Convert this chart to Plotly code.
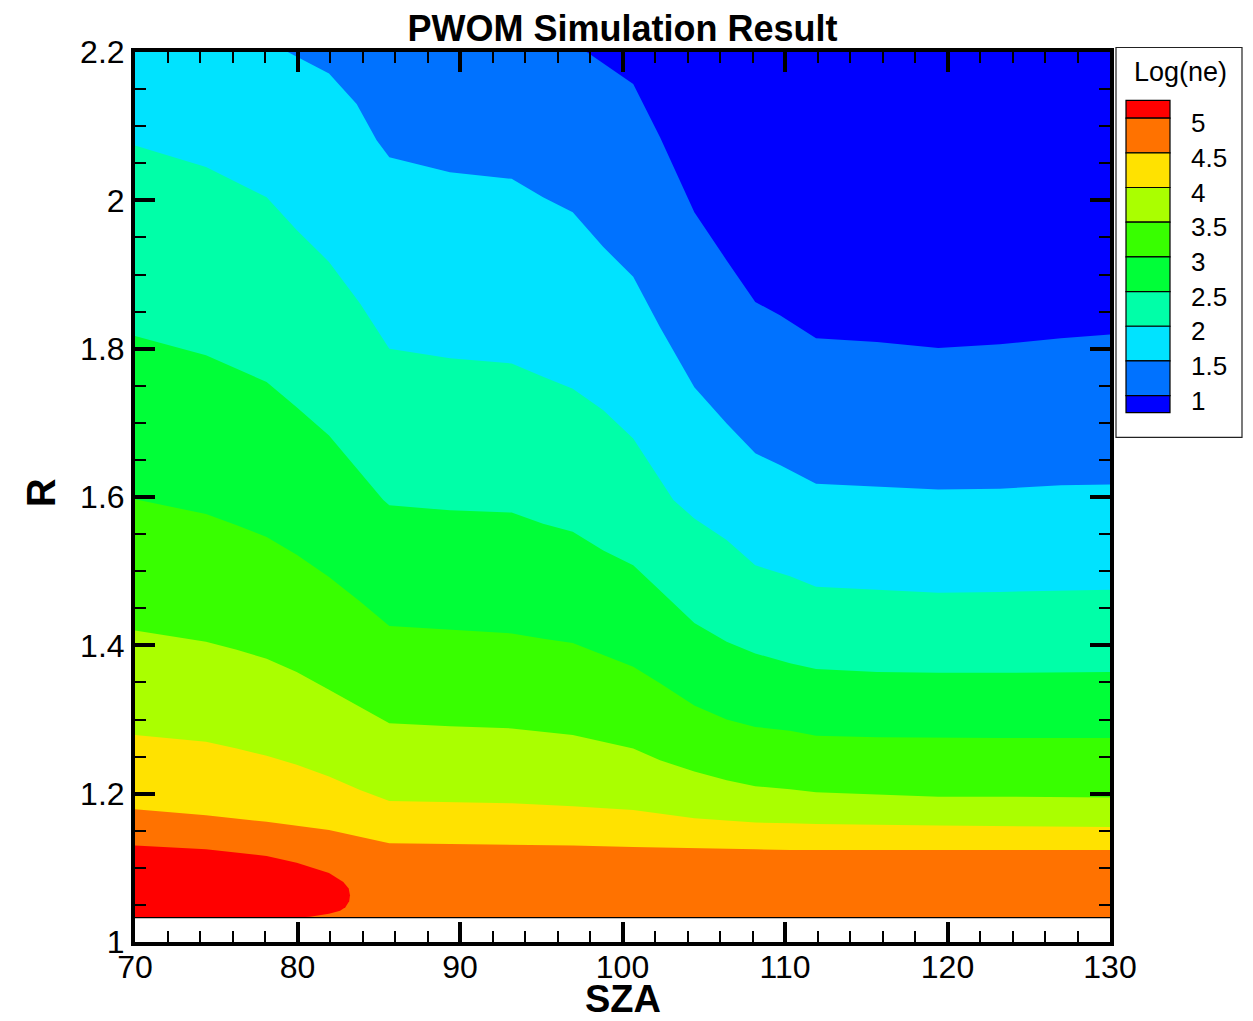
import plotly.graph_objects as go

# ---------------------------------------------------------------
# PWOM simulation: log10 electron density over SZA and R
# ---------------------------------------------------------------
SZA_MIN, SZA_MAX = 70.0, 130.0
R_MIN, R_MAX = 1.033, 2.2

LEVELS = [1, 1.5, 2, 2.5, 3, 3.5, 4, 4.5, 5]
LEVEL_LABELS = ["1", "1.5", "2", "2.5", "3", "3.5", "4", "4.5", "5"]
# fill colour of each band, from below level 1 up to above level 5
BAND_COLORS = ["#0000FF", "#0072FF", "#00E3FF", "#00FFA8", "#00FF38",
               "#38FF00", "#AAFF00", "#FFE200", "#FF7200", "#FF0000"]

# iso-contours of log(ne): vertices (SZA, R) of each level line
sza_10 = [97.8, 100.66, 102.31, 103.34, 104.42, 106.41, 108.17, 109.69,
          111.91, 115.66, 119.43, 123.23, 126.98, 130.0]
r_10 = [2.2, 2.157, 2.085, 2.036, 1.984, 1.919, 1.863, 1.845,
        1.814, 1.809, 1.801, 1.806, 1.814, 1.819]

sza_15 = [79.4, 81.94, 83.64, 84.87, 85.65, 89.38, 93.18, 95.11, 96.94,
          98.82, 100.66, 102.31, 104.42, 106.41, 108.17, 109.69, 111.91,
          115.66, 119.43, 123.23, 126.98, 130.0]
r_15 = [2.2, 2.171, 2.130, 2.081, 2.058, 2.038, 2.029, 2.004, 1.984,
        1.937, 1.897, 1.829, 1.748, 1.699, 1.659, 1.643, 1.618,
        1.614, 1.610, 1.611, 1.616, 1.617]

sza_20 = [70.0, 74.37, 78.10, 79.95, 81.94, 83.85, 85.65, 89.38, 93.18,
          95.11, 96.94, 98.82, 100.66, 103.13, 104.42, 106.41, 108.17,
          110.31, 111.91, 115.66, 119.43, 123.23, 126.98, 130.0]
r_20 = [2.074, 2.045, 2.004, 1.960, 1.917, 1.861, 1.800, 1.787, 1.780,
        1.762, 1.746, 1.717, 1.679, 1.596, 1.571, 1.542, 1.508,
        1.493, 1.479, 1.475, 1.471, 1.472, 1.474, 1.475]

sza_25 = [70.0, 74.37, 76.26, 78.10, 79.95, 81.94, 85.28, 85.65, 89.38,
          93.18, 95.11, 96.94, 98.82, 100.66, 102.31, 104.42, 106.41,
          108.17, 110.31, 111.91, 115.66, 119.43, 123.23, 126.98, 130.0]
r_25 = [1.817, 1.791, 1.773, 1.755, 1.721, 1.683, 1.596, 1.589, 1.582,
        1.579, 1.564, 1.553, 1.528, 1.508, 1.474, 1.430, 1.405,
        1.389, 1.376, 1.368, 1.364, 1.363, 1.363, 1.364, 1.364]

sza_30 = [70.0, 74.37, 76.26, 78.10, 79.95, 81.94, 83.85, 85.65, 89.38,
          93.18, 95.13, 96.94, 98.82, 100.66, 102.31, 104.42, 106.41,
          108.17, 110.31, 111.91, 115.66, 119.43, 123.23, 126.98, 130.0]
r_30 = [1.597, 1.577, 1.562, 1.546, 1.522, 1.492, 1.459, 1.426, 1.421,
        1.416, 1.409, 1.403, 1.387, 1.371, 1.349, 1.319, 1.300,
        1.290, 1.285, 1.278, 1.276, 1.275, 1.275, 1.275, 1.275]

sza_35 = [70.0, 74.37, 76.26, 78.10, 79.95, 81.94, 83.85, 85.65, 89.38,
          93.18, 96.94, 98.82, 100.66, 102.31, 104.42, 106.41, 108.17,
          110.31, 111.91, 115.66, 119.43, 123.23, 126.98, 130.0]
r_35 = [1.420, 1.405, 1.394, 1.382, 1.364, 1.340, 1.317, 1.295, 1.291,
        1.288, 1.279, 1.270, 1.261, 1.245, 1.230, 1.218, 1.210,
        1.206, 1.202, 1.199, 1.196, 1.196, 1.195, 1.195]

sza_40 = [70.0, 74.37, 76.26, 78.10, 79.95, 81.94, 83.85, 85.65, 89.38,
          93.18, 96.94, 100.66, 104.42, 108.17, 110.31, 111.91, 119.43, 130.0]
r_40 = [1.279, 1.270, 1.261, 1.251, 1.239, 1.223, 1.205, 1.190, 1.189,
        1.187, 1.183, 1.178, 1.167, 1.161, 1.160, 1.159, 1.157, 1.155]

sza_45 = [70.0, 74.37, 78.10, 81.94, 83.85, 85.65, 89.38, 93.18, 96.94,
          100.66, 104.42, 108.17, 110.31, 130.0]
r_45 = [1.179, 1.171, 1.162, 1.151, 1.142, 1.133, 1.132, 1.131, 1.130,
        1.128, 1.126, 1.125, 1.124, 1.124]

# the level-5 line closes on the inner boundary as a lobe
sza_50 = [70.0, 74.37, 78.10, 79.95, 81.94, 82.82, 83.15, 83.23, 83.18,
          82.95, 82.62, 81.94, 80.77, 79.95]
r_50 = [1.130, 1.125, 1.116, 1.107, 1.093, 1.081, 1.072, 1.063, 1.055,
        1.047, 1.042, 1.038, 1.034, 1.033]

ISO_LINES = [(sza_10, r_10), (sza_15, r_15), (sza_20, r_20), (sza_25, r_25),
             (sza_30, r_30), (sza_35, r_35), (sza_40, r_40), (sza_45, r_45),
             (sza_50, r_50)]

# ---------------------------------------------------------------
# page geometry (pixels)
W, H = 1253, 1021
PL, PR, PT, PB = 135, 1110, 51.5, 942
FONT = "Liberation Sans, Arial, Helvetica, sans-serif"


def px_x(px):
    return (px - PL) / (PR - PL)


def px_y(py):
    return (PB - py) / (PB - PT)


fig = go.Figure()

# lowest band covers the whole simulation domain
fig.add_trace(go.Scatter(
    x=[SZA_MIN, SZA_MAX, SZA_MAX, SZA_MIN, SZA_MIN],
    y=[R_MIN, R_MIN, R_MAX, R_MAX, R_MIN],
    mode="lines", fill="toself", fillcolor=BAND_COLORS[0],
    line=dict(width=0, color=BAND_COLORS[0]), hoverinfo="skip",
    showlegend=False))

# each region above a level is painted over the previous one
for (sza, r), color in zip(ISO_LINES, BAND_COLORS[1:]):
    xs, ys = [SZA_MIN], [R_MIN]
    if sza[0] > SZA_MIN:
        xs.append(SZA_MIN)
        ys.append(R_MAX)
    xs += list(sza)
    ys += list(r)
    if sza[-1] >= SZA_MAX:
        xs.append(SZA_MAX)
        ys.append(R_MIN)
    xs.append(xs[0])
    ys.append(ys[0])
    fig.add_trace(go.Scatter(
        x=xs, y=ys, mode="lines", fill="toself", fillcolor=color,
        line=dict(width=0, color=color), hoverinfo="skip",
        showlegend=False))

# inner edge of the simulation domain
fig.add_trace(go.Scatter(
    x=[SZA_MIN, SZA_MAX], y=[R_MIN, R_MIN], mode="lines",
    line=dict(width=1.2, color="black"), hoverinfo="skip", showlegend=False))

# ---------------------------------------------------------------
# contour legend box
shapes = []
annotations = []
box_l, box_r, box_t, box_b = 1116, 1242, 47, 437
shapes.append(dict(type="rect", xref="paper", yref="paper",
                   x0=px_x(box_l), x1=px_x(box_r),
                   y0=px_y(box_b), y1=px_y(box_t),
                   line=dict(color="#222222", width=1.2),
                   fillcolor="white", layer="above"))

sw_l, sw_r = 1126, 1170
sw_top, step = 100.0, 34.7
first_edge = 117.7
edges = [sw_top] + [first_edge + step * k for k in range(len(LEVELS))] + [412.3]
colors_top_down = BAND_COLORS[::-1]
for i, c in enumerate(colors_top_down):
    shapes.append(dict(type="rect", xref="paper", yref="paper",
                       x0=px_x(sw_l), x1=px_x(sw_r),
                       y0=px_y(edges[i + 1]), y1=px_y(edges[i]),
                       line=dict(color="black", width=1.2),
                       fillcolor=c, layer="above"))

for k, lab in enumerate(LEVEL_LABELS[::-1]):
    annotations.append(dict(xref="paper", yref="paper",
                            x=px_x(1189), y=px_y(edges[k + 1] + 5),
                            xanchor="left", yanchor="middle",
                            text=lab, showarrow=False,
                            font=dict(family=FONT, size=26, color="black")))

annotations.append(dict(xref="paper", yref="paper",
                        x=px_x(1180), y=px_y(72),
                        xanchor="center", yanchor="middle",
                        text="Log(ne)", showarrow=False,
                        font=dict(family=FONT, size=27, color="black")))

# axis titles
annotations.append(dict(xref="paper", yref="paper",
                        x=0.5, y=px_y(999),
                        xanchor="center", yanchor="middle",
                        text="<b>SZA</b>", showarrow=False,
                        font=dict(family=FONT, size=38, color="black")))
annotations.append(dict(xref="paper", yref="paper",
                        x=px_x(41), y=px_y(493),
                        xanchor="center", yanchor="middle", textangle=-90,
                        text="<b>R</b>", showarrow=False,
                        font=dict(family=FONT, size=40, color="black")))

axis_common = dict(
    showgrid=False, zeroline=False, automargin=False,
    showline=True, linewidth=4, linecolor="black", mirror="allticks",
    ticks="inside", ticklen=20, tickwidth=4, tickcolor="black",
    tickfont=dict(family=FONT, size=32, color="black"),
)

fig.update_layout(
    width=W, height=H,
    margin=dict(l=PL, r=W - PR, t=PT, b=H - PB, pad=0, autoexpand=False),
    paper_bgcolor="white", plot_bgcolor="white",
    title=dict(text="<b>PWOM Simulation Result</b>",
               x=0.5, xref="paper", xanchor="center",
               y=1 - 28 / H, yref="container", yanchor="middle",
               font=dict(family=FONT, size=36, color="black")),
    xaxis=dict(range=[SZA_MIN, SZA_MAX], tick0=70, dtick=10,
               ticklabelstandoff=-6,
               minor=dict(ticks="inside", ticklen=11, tickwidth=1.5,
                          tickcolor="black", dtick=2, showgrid=False),
               **axis_common),
    yaxis=dict(range=[1.0, 2.2], tick0=1.0, dtick=0.2,
               minor=dict(ticks="inside", ticklen=11, tickwidth=1.5,
                          tickcolor="black", dtick=0.05, showgrid=False),
               **axis_common),
    shapes=shapes,
    annotations=annotations,
)

fig.write_html("out.html")
